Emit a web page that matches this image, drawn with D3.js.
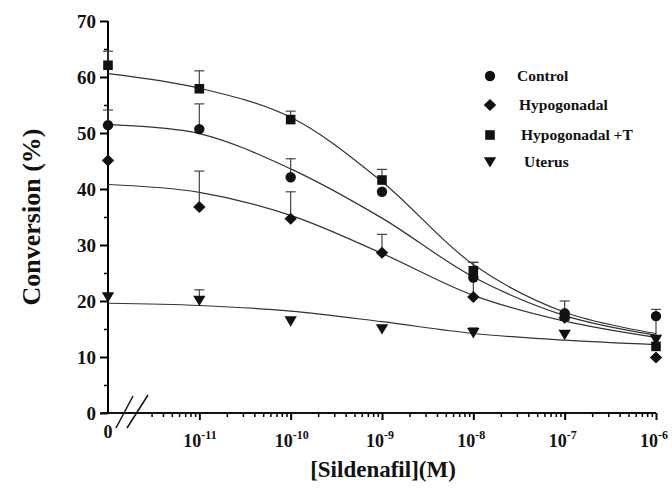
<!DOCTYPE html>
<html>
<head>
<meta charset="utf-8">
<script src="https://cdn.jsdelivr.net/npm/d3@7"></script>
<style>
  body { margin: 0; background: #fff; }
  text { font-family: "Liberation Serif", "Times New Roman", serif; font-weight: bold; fill: #111; }
</style>
</head>
<body>
<div id="chart"></div>
<script>
// Sildenafil dose-response: conversion (%) vs concentration
const width = 672, height = 489;

// concentrations; 1e-12 stands in for "0" on the broken axis
const doses = [1e-12, 1e-11, 1e-10, 1e-9, 1e-8, 1e-7, 1e-6];
const seriesNames = ["Control", "Hypogonadal", "Hypogonadal +T", "Uterus"];

// measured means and top of error bar (null = no bar visible)
const controlMean = [51.4, 50.7, 42.1, 39.5, 24.2, 17.8, 17.3];
const controlErr  = [54.1, 55.2, 45.4, null, null, null, null];
const hypoMean    = [45.1, 36.8, 34.7, 28.6, 20.7, 17.0, 9.9];
const hypoErr     = [null, 43.2, 39.5, 31.9, 26.9, null, null];
const hypoTMean   = [62.1, 57.9, 52.4, 41.6, 25.4, 17.3, 11.9];
const hypoTErr    = [64.6, 61.1, 53.9, 43.5, 26.9, 20.0, 18.5];
const uterusMean  = [20.7, 20.1, 16.4, 15.0, 14.3, 14.0, 13.1];
const uterusErr   = [null, 22.0, null, null, 15.2, null, null];

// fitted curves at each decade
const controlFit = [51.5, 49.9, 43.6, 34.8, 24.3, 17.4, 13.9];
const hypoFit    = [40.8, 39.4, 35.3, 28.5, 21.0, 16.4, 13.5];
const hypoTFit   = [60.6, 58.0, 52.8, 41.3, 26.5, 18.0, 14.2];
const uterusFit  = [19.6, 19.2, 18.2, 16.3, 14.2, 13.0, 12.2];

const yTicks = [0, 10, 20, 30, 40, 50, 60, 70];
const xTickLabels = [["0", ""], ["10", "-11"], ["10", "-10"], ["10", "-9"], ["10", "-8"], ["10", "-7"], ["10", "-6"]];

const series = [
  {name: seriesNames[0], mean: controlMean, err: controlErr, fit: controlFit, shape: "circle"},
  {name: seriesNames[1], mean: hypoMean, err: hypoErr, fit: hypoFit, shape: "diamond"},
  {name: seriesNames[2], mean: hypoTMean, err: hypoTErr, fit: hypoTFit, shape: "square"},
  {name: seriesNames[3], mean: uterusMean, err: uterusErr, fit: uterusFit, shape: "triangle"}
];

const svg = d3.select("#chart").append("svg")
  .attr("width", width).attr("height", height);

const x = d3.scaleLog().domain([1e-12, 1e-6]).range([108, 656]);
const y = d3.scaleLinear().domain([0, 70]).range([413, 21]);

// marker shapes
function shapePath(shape) {
  if (shape === "circle") return d3.symbol(d3.symbolCircle, 85)();
  if (shape === "square") return "M-4.8,-4.8H4.8V4.8H-4.8Z";
  if (shape === "diamond") return "M0,-6L6.2,0L0,6L-6.2,0Z";
  return "M-6.2,-4.8L6.2,-4.8L0,5.6Z";
}

// y axis
const yAxis = svg.append("g").attr("transform", `translate(${x(1e-12)},0)`)
  .call(d3.axisLeft(y).tickValues(yTicks).tickSize(8).tickPadding(4));
yAxis.select(".domain").attr("stroke-width", 2).attr("d", `M0,${y(0)}V${y(70)}`);
yAxis.selectAll(".tick line").attr("stroke-width", 2);
yAxis.selectAll("text").attr("font-size", 19).attr("font-family", "Liberation Serif").attr("font-weight", "bold");
svg.append("g").attr("transform", `translate(${x(1e-12)},0)`)
  .call(d3.axisLeft(y).tickValues(d3.range(5, 70, 10)).tickSize(4).tickFormat(""))
  .call(g => g.select(".domain").remove())
  .selectAll("line").attr("stroke-width", 1.5);

// x axis: minor ticks from 3e-12, majors at each decade
const minor = [];
for (let e = -12; e < -6; e++) {
  for (let k = 2; k <= 9; k++) {
    const v = k * Math.pow(10, e);
    if (v >= 3e-12) minor.push(v);
  }
}
const xAxisY = y(0);
svg.append("line").attr("x1", 101).attr("x2", x(1e-6)).attr("y1", xAxisY).attr("y2", xAxisY)
  .attr("stroke", "#111").attr("stroke-width", 2);
svg.append("g").attr("transform", `translate(0,${xAxisY})`)
  .call(d3.axisBottom(x).tickValues(minor).tickSize(4).tickFormat(""))
  .call(g => g.select(".domain").remove())
  .selectAll("line").attr("stroke-width", 1.5);
svg.append("g").attr("transform", `translate(0,${xAxisY})`)
  .call(d3.axisBottom(x).tickValues(doses.slice(1)).tickSize(7).tickFormat(""))
  .call(g => g.select(".domain").remove())
  .selectAll("line").attr("stroke-width", 2);

// x tick labels with superscript exponents
svg.append("g").selectAll("text").data(doses).join("text")
  .attr("x", (d, i) => i === 0 ? x(d) : x(d) - 16)
  .attr("y", (d, i) => i === 0 ? 438 : 447)
  .attr("text-anchor", (d, i) => i === 0 ? "middle" : "start")
  .each(function (d, i) {
    const t = d3.select(this);
    t.append("tspan").attr("font-size", 18).text(xTickLabels[i][0]);
    if (xTickLabels[i][1]) t.append("tspan").attr("dy", -8).attr("font-size", 12).text(xTickLabels[i][1]);
  });

// axis break marks
const brk = svg.append("g").attr("stroke", "#111").attr("stroke-width", 1.5);
brk.append("line").attr("x1", 116).attr("y1", 428).attr("x2", 133).attr("y2", 396);
brk.append("line").attr("x1", 127).attr("y1", 428).attr("x2", 148).attr("y2", 395);

// fitted curves
const line = d3.line().x((d, i) => x(doses[i])).y(d => y(d)).curve(d3.curveCatmullRom);
svg.append("g").selectAll("path").data(series).join("path")
  .attr("d", s => line(s.fit)).attr("fill", "none")
  .attr("stroke", "#333").attr("stroke-width", 1.2);

// error bars (upper only)
series.forEach(s => {
  const pts = doses.map((d, i) => ({d, m: s.mean[i], e: s.err[i]})).filter(p => p.e != null);
  const g = svg.append("g").attr("stroke", "#444").attr("stroke-width", 1.2);
  g.selectAll("line.v").data(pts).join("line").attr("class", "v")
    .attr("x1", p => x(p.d)).attr("x2", p => x(p.d)).attr("y1", p => y(p.m)).attr("y2", p => y(p.e));
  g.selectAll("line.c").data(pts).join("line").attr("class", "c")
    .attr("x1", p => x(p.d) - 5).attr("x2", p => x(p.d) + 5).attr("y1", p => y(p.e)).attr("y2", p => y(p.e));
});

// markers
series.forEach(s => {
  svg.append("g").selectAll("path").data(s.mean).join("path")
    .attr("d", shapePath(s.shape)).attr("fill", "#111")
    .attr("transform", (m, i) => `translate(${x(doses[i])},${y(m)})`);
});

// legend
const legendY = [76, 105, 135, 162];
const legendTextX = [517, 519, 521, 524];
const legend = svg.append("g");
series.forEach((s, i) => {
  legend.append("path").attr("d", shapePath(s.shape)).attr("fill", "#111")
    .attr("transform", `translate(490,${legendY[i]})`);
  legend.append("text").attr("x", legendTextX[i]).attr("y", legendY[i] + 5)
    .attr("font-size", 15.5).text(s.name);
});

// axis titles
svg.append("text").attr("transform", "rotate(-90)")
  .attr("x", -217).attr("y", 40).attr("text-anchor", "middle")
  .attr("font-size", 26).text("Conversion (%)");
svg.append("text").attr("x", 383).attr("y", 477).attr("text-anchor", "middle")
  .attr("font-size", 23).text("[Sildenafil](M)");
</script>
</body>
</html>
